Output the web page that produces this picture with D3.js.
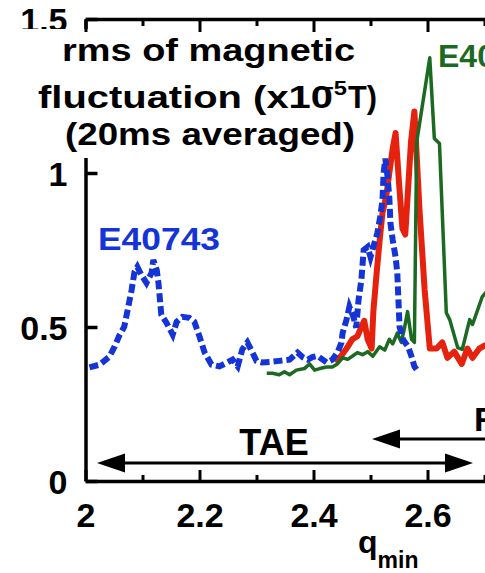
<!DOCTYPE html>
<html>
<head>
<meta charset="utf-8">
<title>rms of magnetic fluctuation</title>
<style>
  body { margin: 0; background: #fff; }
  svg { display: block; background: #fff; }
  text { font-family: "Liberation Sans", Arial, sans-serif; font-weight: bold; }
</style>
</head>
<body>
<svg width="485" height="573"></svg>
<script src="https://d3js.org/d3.v7.min.js"></script>
<script>
// ---- data ----
const xMajor = [2, 2.2, 2.4, 2.6, 2.8];
const xMinor = [2.1, 2.3, 2.5, 2.7];
const xLabels = ['2', '2.2', '2.4', '2.6', ''];
const yTicks = [0, 0.5, 1, 1.5];

// E40743 (blue, dashed)
const blueQ = [2.007,2.025,2.042,2.051,2.060,2.068,2.074,2.081,2.086,2.091,2.098,2.107,2.116,2.119,2.125,2.128,2.133,2.142,2.153,2.160,2.170,2.182,2.191,2.200,2.209,2.221,2.235,2.249,2.258,2.267,2.275,2.284,2.293,2.300,2.310,2.326,2.340,2.358,2.372,2.381,2.390,2.398,2.407,2.423,2.433,2.442,2.449,2.451,2.458,2.463,2.470,2.475,2.479,2.484,2.488,2.495,2.500,2.505,2.512,2.517,2.521,2.523,2.526,2.530,2.533,2.535,2.539,2.544,2.547,2.549,2.551,2.557,2.566,2.572,2.577,2.583];
const blueRms = [0.369,0.378,0.404,0.436,0.475,0.501,0.556,0.621,0.679,0.695,0.669,0.643,0.676,0.718,0.685,0.643,0.540,0.514,0.475,0.517,0.533,0.530,0.517,0.469,0.417,0.378,0.372,0.385,0.394,0.372,0.427,0.450,0.417,0.390,0.385,0.387,0.390,0.394,0.417,0.402,0.394,0.402,0.406,0.385,0.394,0.417,0.449,0.480,0.524,0.566,0.533,0.498,0.588,0.653,0.750,0.760,0.727,0.760,0.805,0.857,0.912,0.999,1.047,0.986,0.921,0.837,0.782,0.727,0.676,0.588,0.501,0.459,0.436,0.404,0.372,0.356];

// red shot
const redQ = [2.437,2.446,2.458,2.468,2.477,2.484,2.489,2.495,2.502,2.505,2.511,2.516,2.521,2.528,2.533,2.539,2.544,2.550,2.556,2.561,2.566,2.571,2.577,2.586,2.595,2.604,2.616,2.626,2.635,2.647,2.660,2.670,2.679,2.691,2.700,2.720];
const redRms = [0.39,0.40,0.43,0.46,0.47,0.50,0.52,0.46,0.43,0.55,0.68,0.78,0.87,0.93,1.00,1.08,1.13,0.97,0.82,0.80,0.95,1.10,1.20,0.88,0.62,0.43,0.43,0.45,0.40,0.42,0.38,0.43,0.40,0.43,0.44,0.43];

// green shot
const greenQ = [2.318,2.328,2.340,2.349,2.358,2.370,2.384,2.393,2.402,2.411,2.423,2.433,2.442,2.451,2.460,2.468,2.477,2.486,2.495,2.504,2.516,2.525,2.533,2.539,2.547,2.554,2.560,2.565,2.572,2.577,2.581,2.604,2.612,2.621,2.633,2.639,2.653,2.661,2.674,2.679,2.696,2.720];
const greenRms = [0.35,0.35,0.345,0.355,0.345,0.36,0.365,0.38,0.36,0.365,0.37,0.37,0.38,0.40,0.395,0.405,0.417,0.41,0.42,0.405,0.436,0.425,0.46,0.445,0.48,0.45,0.50,0.55,0.46,0.45,1.10,1.374,1.112,1.096,0.546,0.524,0.433,0.427,0.524,0.508,0.598,0.65];

// ---- drawing ----
const svg = d3.select('svg');
const x = d3.scaleLinear().domain([2, 2.9]).range([85.5, 85.5 + 0.9 * 570]);
const y = d3.scaleLinear().domain([0, 1.5]).range([481, 19]);
const axisW = 3.5;

const zip = (qs, vs) => qs.map((q, i) => [q, vs[i]]);
const line = d3.line().x(d => x(d[0])).y(d => y(d[1]));

// left axis (partly hidden by the title box)
const gl = svg.append('g').attr('transform', `translate(${x(2)},0)`)
  .call(d3.axisLeft(y).tickValues(yTicks).tickSize(-12).tickSizeOuter(0).tickPadding(18).tickFormat(d3.format('')));
gl.select('.domain').attr('stroke-width', axisW);
gl.selectAll('.tick line').attr('stroke-width', axisW);
gl.selectAll('.tick text').attr('font-size', 34).attr('font-family', null).attr('dy', '0.36em');

// white box behind the title
svg.append('rect').attr('x', 0).attr('y', 29).attr('width', 382).attr('height', 129).attr('fill', '#fff');

// bottom axis
const gb = svg.append('g').attr('transform', `translate(0,${y(0)})`)
  .call(d3.axisBottom(x).tickValues(xMajor).tickSize(-11).tickSizeOuter(0).tickPadding(22)
    .tickFormat((d, i) => xLabels[i]));
gb.select('.domain').attr('stroke-width', axisW);
gb.selectAll('.tick line').attr('stroke-width', 3);
gb.selectAll('.tick text').attr('font-size', 34).attr('font-family', null);
const gbm = svg.append('g').attr('transform', `translate(0,${y(0)})`)
  .call(d3.axisBottom(x).tickValues(xMinor).tickSize(-6).tickFormat(''));
gbm.select('.domain').remove();
gbm.selectAll('.tick line').attr('stroke-width', 3);

// top axis
const gt = svg.append('g').attr('transform', `translate(0,${y(1.5)})`)
  .call(d3.axisTop(x).tickValues(xMajor).tickSize(-13).tickSizeOuter(0).tickFormat(''));
gt.select('.domain').attr('stroke-width', axisW);
gt.selectAll('.tick line').attr('stroke-width', 3);
const gtm = svg.append('g').attr('transform', `translate(0,${y(1.5)})`)
  .call(d3.axisTop(x).tickValues(xMinor).tickSize(-7).tickFormat(''));
gtm.select('.domain').remove();
gtm.selectAll('.tick line').attr('stroke-width', 3);

// series
svg.append('path').datum(zip(redQ, redRms)).attr('d', line)
  .attr('fill', 'none').attr('stroke', '#e5220e').attr('stroke-width', 6).attr('stroke-linejoin', 'round');
svg.append('path').datum(zip(greenQ, greenRms)).attr('d', line)
  .attr('fill', 'none').attr('stroke', '#1c6a22').attr('stroke-width', 3.5).attr('stroke-linejoin', 'round');
svg.append('path').datum(zip(blueQ, blueRms)).attr('d', line)
  .attr('fill', 'none').attr('stroke', '#1434d6').attr('stroke-width', 6).attr('stroke-dasharray', '9,4');

// title
const title = svg.append('g').attr('fill', '#000');
title.append('text').attr('x', 62).attr('y', 61).attr('font-size', 32)
  .attr('textLength', 293).attr('lengthAdjust', 'spacingAndGlyphs').text('rms of magnetic');
title.append('text').attr('x', 38).attr('y', 108).attr('font-size', 32)
  .attr('textLength', 295).attr('lengthAdjust', 'spacingAndGlyphs').text('fluctuation (x10');
title.append('text').attr('x', 320).attr('y', 95).attr('font-size', 20)
  .attr('textLength', 27).attr('lengthAdjust', 'spacingAndGlyphs').text('\u22125');
title.append('text').attr('x', 348).attr('y', 108).attr('font-size', 32)
  .attr('textLength', 29).attr('lengthAdjust', 'spacingAndGlyphs').text('T)');
title.append('text').attr('x', 65).attr('y', 145).attr('font-size', 32)
  .attr('textLength', 290).attr('lengthAdjust', 'spacingAndGlyphs').text('(20ms averaged)');

// shot labels
svg.append('text').attr('x', 98).attr('y', 250).attr('font-size', 32).attr('fill', '#1434d6')
  .attr('textLength', 122).attr('lengthAdjust', 'spacingAndGlyphs').text('E40743');
svg.append('text').attr('x', 438).attr('y', 67).attr('font-size', 32).attr('fill', '#1c6a22')
  .text('E40746');

// mode ranges
const arrowY1 = 463, arrowY2 = 439;
const head = (tipX, yy, dir) => {
  const L = 28, H = 9.5;
  return `M${tipX},${yy} L${tipX + dir * L},${yy - H} L${tipX + dir * L},${yy + H} Z`;
};
svg.append('line').attr('x1', 110).attr('x2', 460).attr('y1', arrowY1).attr('y2', arrowY1)
  .attr('stroke', '#000').attr('stroke-width', 3);
svg.append('path').attr('d', head(97, arrowY1, 1)).attr('fill', '#000');
svg.append('path').attr('d', head(473, arrowY1, -1)).attr('fill', '#000');
svg.append('text').attr('x', 274).attr('y', 455).attr('font-size', 36).attr('text-anchor', 'middle').text('TAE');

svg.append('line').attr('x1', 390).attr('x2', 600).attr('y1', arrowY2).attr('y2', arrowY2)
  .attr('stroke', '#000').attr('stroke-width', 3);
svg.append('path').attr('d', head(372, arrowY2, 1)).attr('fill', '#000');
svg.append('text').attr('x', 474).attr('y', 431).attr('font-size', 34).text('RSAE');

// x label
const xl = svg.append('text').attr('x', 358).attr('y', 553).attr('font-size', 32);
xl.append('tspan').text('q');
xl.append('tspan').attr('dy', 15).attr('font-size', 23).text('min');
</script>
</body>
</html>
